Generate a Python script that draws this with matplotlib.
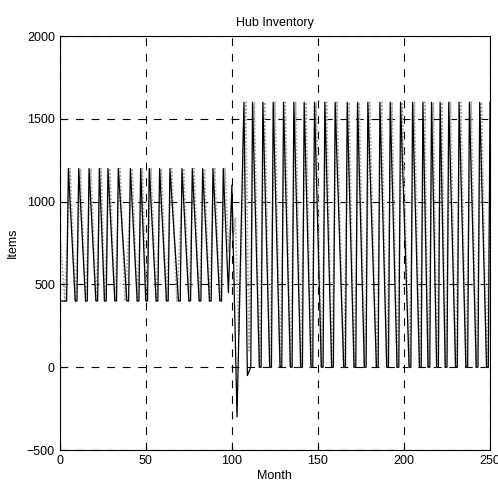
import matplotlib
matplotlib.use("Agg")
import matplotlib.pyplot as plt

# turning points (month, items)
solid_months = [0, 4, 5, 9, 10, 11, 15, 16, 17, 21, 22, 23, 26, 27, 28, 32, 33, 34,
                39, 40, 41, 45, 46, 47, 50, 51, 52, 56, 57, 58, 62, 63, 64, 69, 70, 71,
                75, 76, 77, 81, 82, 83, 87, 88, 89, 93, 94, 95, 98, 100, 103, 107, 109,
                111, 112, 116, 117, 118, 122, 123, 124, 128, 129, 130, 134, 135, 136,
                140, 141, 142, 146, 147, 148, 152, 153, 154, 158, 159, 160, 165, 166, 167,
                171, 172, 173, 177, 178, 179, 184, 185, 186, 190, 191, 192, 196, 197, 198,
                203, 204, 205, 209, 210, 211, 214, 215, 216, 219, 220, 221, 224, 225, 226,
                230, 231, 232, 236, 237, 238, 242, 243, 244, 248, 249, 250]
solid_items = [400, 400, 1200, 400, 400, 1200, 400, 400, 1200, 400, 400, 1200, 400, 400, 1200,
               400, 400, 1200, 400, 400, 1200, 400, 400, 1200, 400, 400, 1200, 400, 400, 1200,
               400, 400, 1200, 400, 400, 1200, 400, 400, 1200, 400, 400, 1200, 400, 400, 1200,
               400, 400, 1200, 450, 1100, -300, 1600, -50,
               0, 1600, 0, 0, 1600, 0, 0, 1600, 0, 0, 1600, 0, 0, 1600,
               0, 0, 1600, 0, 0, 1600, 0, 0, 1600, 0, 0, 1600, 0, 0, 1600,
               0, 0, 1600, 0, 0, 1600, 0, 0, 1600, 0, 0, 1600, 0, 0, 1600,
               0, 0, 1600, 0, 0, 1600, 0, 0, 1600, 0, 0, 1600, 0, 0, 1600,
               0, 0, 1600, 0, 0, 1600, 0, 0, 1600, 0, 0, 1600]

dotted_months = [0, 3, 6, 9, 12, 15, 18, 21, 24, 26, 29, 32, 35, 38, 42, 45, 48, 50, 53,
                 56, 59, 62, 65, 68, 72, 75, 78, 81, 84, 87, 90, 93, 96, 98, 100, 101, 102,
                 104, 108, 110, 113, 116, 119, 122, 125, 128, 131, 134, 137, 140, 143, 146,
                 149, 152, 155, 158, 161, 165, 168, 171, 174, 177, 180, 184, 187, 190, 193,
                 196, 199, 203, 206, 209, 212, 214, 217, 219, 222, 224, 227, 230, 233, 236,
                 239, 242, 245, 248, 250]
dotted_items = [800, 400, 1200, 400, 1200, 400, 1200, 400, 1200, 400, 1200, 400, 1200, 400,
                1200, 400, 1200, 400, 1200, 400, 1200, 400, 1200, 400, 1200, 400, 1200, 400,
                1200, 400, 1200, 400, 1200, 700, 1000, 800, 900,
                200, 1600, 100, 1600, 0, 1600, 0, 1600, 0, 1600, 0, 1600, 0, 1600, 0,
                1600, 0, 1600, 0, 1600, 0, 1600, 0, 1600, 0, 1600, 0, 1600, 0, 1600,
                0, 1600, 0, 1600, 0, 1600, 0, 1600, 0, 1600, 0, 1600, 0, 1600, 0,
                1600, 0, 1600, 0, 1000]

x_ticks = [0, 50, 100, 150, 200, 250]
y_ticks = [-500, 0, 500, 1000, 1500, 2000]

plt.rcParams['font.family'] = ['Liberation Sans', 'DejaVu Sans']

fig = plt.figure(figsize=(4.98, 4.94), dpi=100)
ax = fig.add_axes([0.120, 0.089, 0.864, 0.838])

ax.plot(dotted_months, dotted_items, color='#a8a8a8', lw=1.3, ls=(0, (1, 1)))
ax.plot(solid_months, solid_items, color='black', lw=0.9)

ax.set_xlim(0, 250)
ax.set_ylim(-500, 2000)
ax.set_xticks(x_ticks)
ax.set_yticks(y_ticks)
ax.grid(True, color='black', ls=(0, (7, 7)), lw=0.8)
ax.tick_params(direction='in', labelsize=9, length=4)
for s in ax.spines.values():
    s.set_linewidth(0.8)

ax.set_title("Hub Inventory", fontsize=9, pad=7)
ax.set_xlabel("Month", fontsize=9, labelpad=2)
ax.set_ylabel("Items", fontsize=9, labelpad=6)

fig.savefig("out.png", dpi=100)
